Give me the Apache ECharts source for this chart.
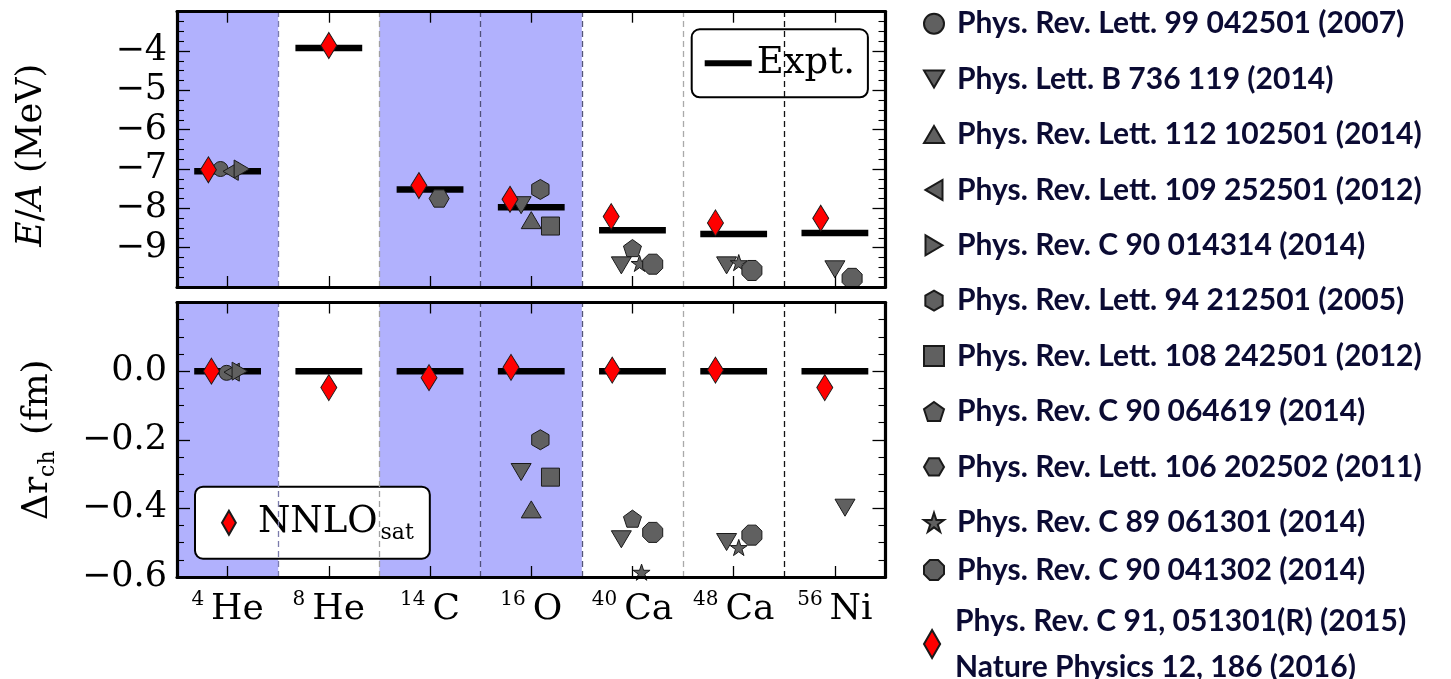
<!DOCTYPE html>
<html>
<head>
<meta charset="utf-8">
<script src="https://cdn.jsdelivr.net/npm/echarts@6/dist/echarts.min.js"></script>
<style>
  html, body { margin: 0; padding: 0; background: #ffffff; }
  #chart { width: 1451px; height: 679px; }
</style>
</head>
<body>
<div id="chart"></div>
<script>
// ---- nuclei (columns) ----
const massNumbers = [4, 8, 14, 16, 40, 48, 56];
const elements = ['He', 'He', 'C', 'O', 'Ca', 'Ca', 'Ni'];
const nuclei = massNumbers.map((a, i) => a + elements[i]);
const shadedNuclei = ['4He', '14C', '16O'];

// ---- experiment: binding energy per nucleon (MeV) and radius difference (fm) ----
const exptEnergy = [-7.06, -3.92, -7.52, -7.97, -8.56, -8.65, -8.63];
const exptRadius = [0, 0, 0, 0, 0, 0, 0];

// ---- calculations: [column position (nucleus index + shift inside the column), value] ----
const nnlosatEnergy = [[-0.19, -7.02], [1.00, -3.86], [1.89, -7.42], [2.79, -7.77], [3.79, -8.21], [4.82, -8.37], [5.86, -8.25]];
const nnlosatRadius = [[-0.16, 0.0], [1.00, -0.048], [1.99, -0.019], [2.80, 0.011], [3.80, 0.003], [4.82, 0.003], [5.90, -0.048]];

const energyPRL99 = [[-0.07, -7.00]];
const radiusPRL99 = [[-0.01, -0.005]];
const energyPLB736 = [[2.90, -7.92], [3.89, -9.45], [4.93, -9.45], [6.00, -9.55]];
const radiusPLB736 = [[2.90, -0.294], [3.89, -0.49], [4.93, -0.498], [6.10, -0.398]];
const energyPRL112 = [[3.00, -8.30]];
const radiusPRL112 = [[3.00, -0.403]];
const energyPRL109 = [[0.03, -7.06]];
const radiusPRL109 = [[0.04, -0.003]];
const energyPRC90a = [[0.14, -7.00]];
const radiusPRC90a = [[0.12, 0.0]];
const energyPRL94 = [[3.09, -7.52]];
const radiusPRL94 = [[3.09, -0.20]];
const energyPRL108 = [[3.19, -8.45]];
const radiusPRL108 = [[3.19, -0.309]];
const energyPRC90b = [[4.00, -9.01]];
const radiusPRC90b = [[4.00, -0.43]];
const energyPRL106 = [[2.09, -7.75]];
const radiusPRL106 = [];
const energyPRC89 = [[4.07, -9.40], [5.05, -9.38]];
const radiusPRC89 = [[4.09, -0.586], [5.05, -0.514]];
const energyPRC90c = [[4.20, -9.42], [5.18, -9.58], [6.17, -9.78]];
const radiusPRC90c = [[4.20, -0.47], [5.18, -0.478]];

// ---- marker shapes ----
const SHAPES = {
  circle: 'circle',
  down: 'path://M0,17L-10,0L10,0Z',
  up: 'path://M0,0L10,17L-10,17Z',
  left: 'path://M0,10L17,0L17,20Z',
  right: 'path://M17,10L0,0L0,20Z',
  hexPointy: 'path://M0,-10L8.66,-5L8.66,5L0,10L-8.66,5L-8.66,-5Z',
  hexFlat: 'path://M-10,0L-5,-8.66L5,-8.66L10,0L5,8.66L-5,8.66Z',
  square: 'rect',
  pentagon: 'path://M0,-10L9.51,-3.09L5.88,8.09L-5.88,8.09L-9.51,-3.09Z',
  star: 'path://M0,-10L2.245,-3.09L9.511,-3.09L3.633,1.18L5.878,8.09L0,3.82L-5.878,8.09L-3.633,1.18L-9.511,-3.09L-2.245,-3.09Z',
  octagon: 'path://M9.24,3.83L3.83,9.24L-3.83,9.24L-9.24,3.83L-9.24,-3.83L-3.83,-9.24L3.83,-9.24L9.24,-3.83Z',
  diamond: 'path://M0,-13L7.5,0L0,13L-7.5,0Z'
};

const references = [
  { name: 'Phys. Rev. Lett. 99 042501 (2007)', energy: energyPRL99, radius: radiusPRL99, shape: 'circle', size: 15 },
  { name: 'Phys. Lett. B 736 119 (2014)', energy: energyPLB736, radius: radiusPLB736, shape: 'down', size: 20 },
  { name: 'Phys. Rev. Lett. 112 102501 (2014)', energy: energyPRL112, radius: radiusPRL112, shape: 'up', size: 20 },
  { name: 'Phys. Rev. Lett. 109 252501 (2012)', energy: energyPRL109, radius: radiusPRL109, shape: 'left', size: 18 },
  { name: 'Phys. Rev. C 90 014314 (2014)', energy: energyPRC90a, radius: radiusPRC90a, shape: 'right', size: 18 },
  { name: 'Phys. Rev. Lett. 94 212501 (2005)', energy: energyPRL94, radius: radiusPRL94, shape: 'hexPointy', size: 20 },
  { name: 'Phys. Rev. Lett. 108 242501 (2012)', energy: energyPRL108, radius: radiusPRL108, shape: 'square', size: 18 },
  { name: 'Phys. Rev. C 90 064619 (2014)', energy: energyPRC90b, radius: radiusPRC90b, shape: 'pentagon', size: 18 },
  { name: 'Phys. Rev. Lett. 106 202502 (2011)', energy: energyPRL106, radius: radiusPRL106, shape: 'hexFlat', size: 20 },
  { name: 'Phys. Rev. C 89 061301 (2014)', energy: energyPRC89, radius: radiusPRC89, shape: 'star', size: 17 },
  { name: 'Phys. Rev. C 90 041302 (2014)', energy: energyPRC90c, radius: radiusPRC90c, shape: 'octagon', size: 20 }
];
const NNLOSAT = 'NNLOsat';
const nnlosatCitation = 'Phys. Rev. C 91, 051301(R) (2015)\nNature Physics 12, 186 (2016)';

// ---- styles ----
const SERIF = 'DejaVu Serif';
const BAND_COLOR = '#b1b1fd';
const GRAY = '#606060';
const boundaryColors = ['#7b7bab', '#a0a0a0', '#50507a', '#555577', '#aaaaaa', '#111111'];
const EXPT_HALF_WIDTH = 0.33;
const MINUS = '\u2212';

const grids = [
  { left: 177, top: 11.7, width: 708.5, height: 275.3 },
  { left: 177, top: 302.5, width: 708.5, height: 274.5 }
];

function categoryAxis(gridIndex, position, withLabels) {
  return {
    type: 'category', gridIndex, position, data: nuclei, boundaryGap: true, z: 10,
    axisLine: { show: true, onZero: false, lineStyle: { color: '#000', width: 3.2 } },
    axisTick: { show: true, inside: true, alignWithLabel: true, length: 11, lineStyle: { color: '#000', width: 1.3 } },
    splitLine: { show: false },
    axisLabel: withLabels ? {
      show: true, margin: 13, interval: 0,
      formatter: (v, i) => '{sup|' + massNumbers[i] + '}{el|' + elements[i] + '}',
      rich: {
        sup: { fontFamily: SERIF, fontSize: 20, color: '#000', verticalAlign: 'top', lineHeight: 22, padding: [0, 7, 0, 0] },
        el: { fontFamily: SERIF, fontSize: 36, color: '#000', lineHeight: 40 }
      }
    } : { show: false }
  };
}

function positionAxis(gridIndex) {
  return { type: 'value', gridIndex, min: -0.5, max: 6.5, show: false };
}

function valueAxis(gridIndex, position, range, name) {
  const left = position === 'left';
  const axis = {
    type: 'value', gridIndex, position, min: range.min, max: range.max, interval: range.interval, z: 10,
    axisLine: { show: true, onZero: false, lineStyle: { color: '#000', width: 3.2 } },
    axisTick: { show: true, inside: true, length: 13, lineStyle: { color: '#000', width: 1.3 } },
    minorTick: { show: true, splitNumber: 4, length: 7, lineStyle: { color: '#000', width: 1.1 } },
    splitLine: { show: false },
    minorSplitLine: { show: false },
    axisLabel: left ? {
      show: true, margin: 10, fontFamily: SERIF, fontSize: 35, color: '#000',
      formatter: range.format
    } : { show: false }
  };
  if (left && name) {
    Object.assign(axis, name);
  }
  return axis;
}

const energyRange = {
  min: -10, max: -3, interval: 1,
  format: v => (v <= -4 && v >= -9) ? MINUS + Math.abs(Math.round(v)) : ''
};
const radiusRange = {
  min: -0.6, max: 0.2, interval: 0.2,
  format: v => {
    if (v > 0.1) return '';
    if (Math.abs(v) < 1e-9) return '0.0';
    return MINUS + Math.abs(v).toFixed(1);
  }
};

const energyName = {
  name: '{i|E}{r|/}{i|A}{r| (MeV)}', nameLocation: 'middle', nameRotate: 90, nameGap: 128,
  nameTextStyle: {
    padding: [0, 12, 0, 0],
    rich: {
      i: { fontFamily: SERIF, fontStyle: 'italic', fontSize: 35, color: '#000' },
      r: { fontFamily: SERIF, fontSize: 35, color: '#000' }
    }
  }
};
const radiusName = {
  name: '{r|Δr}{s|ch}{r| (fm)}', nameLocation: 'middle', nameRotate: 90, nameGap: 118,
  nameTextStyle: {
    rich: {
      r: { fontFamily: SERIF, fontSize: 36, color: '#000', lineHeight: 42 },
      s: { fontFamily: SERIF, fontSize: 22, color: '#000', verticalAlign: 'bottom', lineHeight: 42, padding: [14, 4, 0, 0] }
    }
  }
};

// x axes: per panel a labelled bottom axis, a top axis (ticks only) and a hidden positional axis
const xAxis = [
  categoryAxis(0, 'bottom', false), categoryAxis(0, 'top', false), positionAxis(0),
  categoryAxis(1, 'bottom', true), categoryAxis(1, 'top', false), positionAxis(1)
];
const yAxis = [
  valueAxis(0, 'left', energyRange, energyName), valueAxis(0, 'right', energyRange),
  valueAxis(1, 'left', radiusRange, radiusName), valueAxis(1, 'right', radiusRange)
];
const POS_AXIS = [2, 5];
const LEFT_AXIS = [0, 2];

const series = [];

// column shading and column separators
[0, 1].forEach(g => {
  series.push({
    type: 'scatter', xAxisIndex: POS_AXIS[g], yAxisIndex: LEFT_AXIS[g], data: [], silent: true, z: 1,
    markArea: {
      silent: true, itemStyle: { color: BAND_COLOR },
      data: shadedNuclei.map(n => {
        const i = nuclei.indexOf(n);
        return [{ xAxis: i - 0.5 }, { xAxis: i + 0.5 }];
      })
    },
    markLine: {
      silent: true, symbol: ['none', 'none'], label: { show: false },
      data: nuclei.slice(1).map((n, k) => ({
        xAxis: k + 0.5,
        lineStyle: { color: boundaryColors[k], type: [6, 4], width: 1.3 }
      }))
    }
  });
});

// experimental values as horizontal bars
function exptBars(values, g) {
  return {
    type: 'custom', name: 'Expt.', xAxisIndex: POS_AXIS[g], yAxisIndex: LEFT_AXIS[g], z: 2,
    itemStyle: { color: '#000' },
    data: values.map((v, i) => [i, v]),
    encode: { x: 0, y: 1 },
    renderItem: (params, api) => {
      const x = api.value(0), y = api.value(1);
      const p1 = api.coord([x - EXPT_HALF_WIDTH, y]);
      const p2 = api.coord([x + EXPT_HALF_WIDTH, y]);
      return { type: 'line', shape: { x1: p1[0], y1: p1[1], x2: p2[0], y2: p2[1] }, style: { stroke: '#000', lineWidth: 6.5 } };
    }
  };
}
series.push(exptBars(exptEnergy, 0), exptBars(exptRadius, 1));

// other calculations
references.forEach(ref => {
  [[ref.energy, 0], [ref.radius, 1]].forEach(([pts, g]) => {
    series.push({
      type: 'scatter', name: ref.name, xAxisIndex: POS_AXIS[g], yAxisIndex: LEFT_AXIS[g], z: 3,
      data: pts, symbol: SHAPES[ref.shape], symbolSize: ref.size, symbolKeepAspect: true,
      itemStyle: { color: GRAY, borderColor: '#1a1a1a', borderWidth: 1, opacity: 1 }
    });
  });
});

// NNLOsat
[[nnlosatEnergy, 0], [nnlosatRadius, 1]].forEach(([pts, g]) => {
  series.push({
    type: 'scatter', name: NNLOSAT, xAxisIndex: POS_AXIS[g], yAxisIndex: LEFT_AXIS[g], z: 4,
    data: pts, symbol: SHAPES.diamond, symbolSize: [16, 26], symbolKeepAspect: false,
    itemStyle: { color: '#ff0000', borderColor: '#1a1a1a', borderWidth: 1, opacity: 1 }
  });
});

const LEGEND_FONT = { fontFamily: 'Lato', fontWeight: 'bold', fontSize: 30, color: '#0b0b33' };

const legend = [
  {
    orient: 'vertical', left: 918, top: 1.7, itemWidth: 20, itemHeight: 20, itemGap: 21.4,
    selectedMode: false, symbolKeepAspect: true,
    data: references.slice(0, 10).map(r => ({ name: r.name, icon: SHAPES[r.shape] })),
    textStyle: Object.assign({ lineHeight: 34, padding: [0, 0, 0, 8] }, LEGEND_FONT)
  },
  {
    orient: 'vertical', left: 918, top: 548, itemWidth: 20, itemHeight: 20,
    selectedMode: false, symbolKeepAspect: true,
    data: [{ name: references[10].name, icon: SHAPES.octagon }],
    textStyle: Object.assign({ lineHeight: 34, padding: [0, 0, 0, 8] }, LEGEND_FONT)
  },
  {
    orient: 'vertical', left: 918, top: 593, itemWidth: 20, itemHeight: 28, height: 120,
    selectedMode: false, symbolKeepAspect: true,
    data: [{ name: NNLOSAT, icon: SHAPES.diamond }],
    formatter: () => nnlosatCitation,
    textStyle: Object.assign({ lineHeight: 46, padding: [0, 0, 0, 8] }, LEGEND_FONT)
  },
  {
    orient: 'vertical', left: 691.7, top: 29.3, itemWidth: 47, itemHeight: 6,
    selectedMode: false, padding: [14, 13, 14, 13],
    backgroundColor: '#fff', borderColor: '#000', borderWidth: 2, borderRadius: 8,
    data: [{ name: 'Expt.', icon: 'rect', itemStyle: { color: '#000' } }],
    textStyle: { fontFamily: SERIF, fontSize: 37, color: '#000', lineHeight: 40 }
  },
  {
    orient: 'vertical', left: 195, top: 486.7, itemWidth: 30, itemHeight: 24,
    selectedMode: false, symbolKeepAspect: true, padding: [13, 16, 13, 26],
    backgroundColor: '#fff', borderColor: '#000', borderWidth: 2, borderRadius: 8,
    data: [{ name: NNLOSAT, icon: SHAPES.diamond }],
    formatter: () => '{n|NNLO}{s|sat}',
    textStyle: {
      padding: [0, 0, 0, 9], lineHeight: 46,
      rich: {
        n: { fontFamily: SERIF, fontSize: 37, color: '#000', lineHeight: 46 },
        s: { fontFamily: SERIF, fontSize: 22, color: '#000', lineHeight: 46, verticalAlign: 'bottom', padding: [0, 0, 1, 3] }
      }
    }
  }
];

const chart = echarts.init(document.getElementById('chart'), null, { renderer: 'canvas' });
chart.setOption({
  animation: false,
  backgroundColor: '#ffffff',
  grid: grids,
  xAxis, yAxis, series, legend
});
</script>
</body>
</html>
